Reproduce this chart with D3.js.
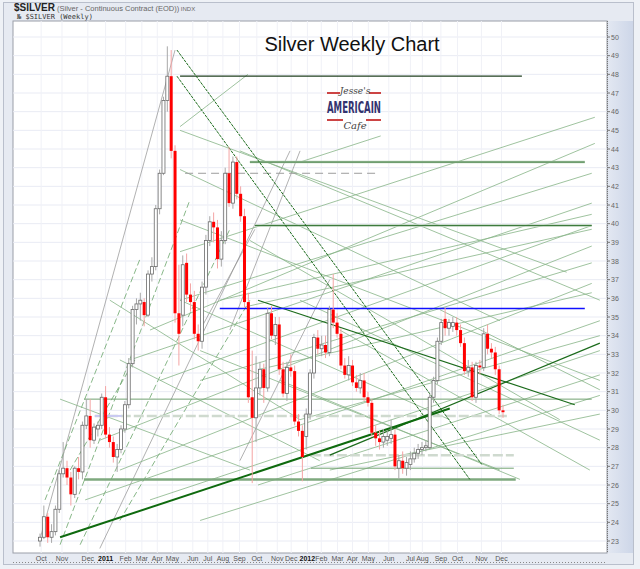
<!DOCTYPE html>
<html>
<head>
<meta charset="utf-8">
<script src="https://cdnjs.cloudflare.com/ajax/libs/d3/7.8.5/d3.min.js"></script>
<style>
body { margin: 0; background: #fff; }
svg { display: block; font-family: Arial, "Liberation Sans", sans-serif; }
</style>
</head>
<body>
<svg id="chart" width="640" height="569"></svg>
<script>
// weekly candles (oldest first)
var opens = [23.0,23.2,24.3,23.2,23.5,24.7,26.6,26.9,26.4,25.5,26.9,26.7,29.2,29.7,28.4,29.0,29.2,30.7,28.7,28.3,
	27.5,27.9,29.0,30.3,32.5,35.4,35.7,35.8,35.1,37.3,37.7,40.8,42.7,46.6,47.9,43.9,35.2,35.1,37.9,36.2,
	35.8,34.1,33.7,36.6,39.1,40.1,39.8,38.1,39.1,42.7,41.1,43.3,41.6,40.4,35.8,30.7,29.6,31.2,32.2,31.2,
	35.2,34.0,34.6,32.2,30.9,32.3,32.1,29.4,28.9,28.6,29.8,32.0,33.9,33.3,33.5,33.1,35.4,34.7,34.1,32.4,
	31.9,32.4,31.5,31.2,31.6,30.7,30.4,28.8,28.5,28.3,28.4,28.5,28.7,26.9,27.3,26.9,27.1,27.4,27.7,27.9,
	28.0,28.0,30.7,31.6,33.7,34.9,34.4,34.5,34.7,34.3,33.6,32.1,32.3,30.7,32.4,32.3,34.1,33.3,33.1,32.2,30.0];
var highs = [23.4,24.9,24.5,23.9,24.9,26.8,28.3,27.3,26.7,27.0,27.5,29.4,30.6,30.6,29.3,29.4,30.9,31.3,29.1,28.6,
	28.2,29.2,30.5,32.8,35.6,36.0,36.3,36.0,37.5,38.2,41.0,42.9,46.8,49.5,49.3,44.2,37.8,38.3,38.4,36.8,
	36.4,34.6,36.9,39.4,40.4,40.6,40.2,39.6,43.0,44.1,43.6,43.6,42.0,40.8,36.3,33.2,32.9,32.6,32.5,35.5,
	35.6,35.0,35.0,32.6,32.6,33.0,32.4,29.8,29.2,30.1,32.2,34.1,34.3,34.0,34.0,35.6,37.3,35.2,34.4,32.8,
	32.9,32.7,31.9,32.0,32.0,31.0,30.6,29.2,28.9,29.0,28.9,29.5,29.0,27.6,27.8,27.5,27.8,28.0,28.2,28.3,
	28.4,30.9,31.8,33.9,34.9,35.5,34.9,35.0,35.0,34.6,33.9,32.7,32.6,32.6,32.7,34.4,34.6,33.6,33.4,32.4,30.3];
var lows = [22.7,23.1,22.9,22.9,23.3,24.5,26.4,26.0,24.9,25.3,26.3,26.3,29.0,28.0,28.2,28.6,29.0,28.5,28.0,27.2,
	26.7,27.7,28.8,30.1,32.3,34.6,34.8,34.5,35.0,36.9,37.5,40.5,42.6,46.0,43.5,34.7,32.4,34.5,35.8,35.3,
	33.8,33.2,33.3,36.2,38.8,39.0,37.6,37.7,38.9,40.9,40.8,41.3,40.1,35.5,30.4,26.1,28.3,30.8,30.4,31.0,
	33.8,33.5,31.9,30.7,30.5,31.8,29.2,28.6,26.2,27.9,29.5,31.7,33.0,32.9,32.8,32.9,34.4,33.9,32.2,31.7,
	31.6,31.3,31.0,30.9,30.5,30.2,28.6,28.1,27.9,28.0,28.1,28.2,26.8,26.3,26.6,26.5,26.8,27.2,27.4,27.6,
	27.8,27.9,30.4,31.4,33.5,34.0,34.0,34.2,34.0,33.4,31.9,31.8,30.5,30.4,31.9,32.1,33.0,32.8,31.9,29.8,29.6];
var closes = [23.2,24.3,23.2,23.5,24.7,26.6,26.9,26.4,25.5,26.9,26.7,29.2,29.7,28.4,29.1,29.2,30.7,28.7,28.3,27.5,
	27.9,29.0,30.3,32.5,35.4,35.7,35.9,35.1,37.3,37.7,40.8,42.7,46.6,47.9,43.9,35.2,34.1,37.8,36.2,35.8,
	34.1,33.7,36.6,39.1,40.1,39.8,38.1,39.1,42.7,41.1,43.3,41.6,40.4,35.8,30.7,29.6,31.2,32.2,31.2,35.2,
	34.0,34.6,32.2,30.9,32.3,32.1,29.4,28.9,27.5,29.8,32.0,33.9,33.3,33.5,33.1,35.4,34.7,34.1,32.4,31.9,
	32.4,31.5,31.2,31.6,30.7,30.4,28.8,28.5,28.3,28.6,28.6,28.7,27.0,27.3,26.9,27.2,27.4,27.7,27.9,28.0,
	28.1,30.7,31.6,33.7,34.7,34.4,34.7,34.7,34.3,33.6,32.1,32.3,30.7,32.4,32.3,34.1,33.3,33.1,32.2,30.0,29.9];

var priceTicks = d3.range(23, 51);
var monthLabels = ["Oct","Nov","Dec","2011","Feb","Mar","Apr","May","Jun","Jul","Aug","Sep","Oct","Nov","Dec",
	"2012","Feb","Mar","Apr","May","Jun","Jul","Aug","Sep","Oct","Nov","Dec"];
var monthWeeks = [0.3,5.7,12.4,17.0,22.2,26.4,30.4,34.3,39.6,43.5,47.4,51.7,56.2,61.5,65.1,
	69.3,72.9,77.1,81.0,85.1,90.4,96.0,99.1,103.9,108.2,114.4,119.6];

// horizontal levels: [price, from week, to week]
var peakLevel = [[47.9, 36.3, 124.9]];
var bandLevels = [[43.3, 54.4, 141.2], [39.9, 55.7, 143.0]];
var blueLevel = [[35.45, 46.6, 141.2]];
var dashedLevels = [[42.7, 37.6, 87.6]];
var ghostLevels = [[29.7, 14.2, 121.0], [27.6, 70.2, 122.8]];
var lavenderLevel = [[29.7, 14.2, 21.2]];
var thinLevels = [[30.6, 11.4, 143.0], [26.9, 70.2, 122.8]];
var floorLevel = [[26.3, 11.4, 123.3]];

// trend lines: [week1, price1, week2, price2]
var peakLines = [[35.5,49.3,114.5,27.1], [35.5,47.9,111.4,26.3]];
var baseLine = [[5.2,23.2,106.2,30.1]];
var darkLines = [[56.5,35.9,138.6,30.3], [75.1,27.6,145.1,33.6]];
var risingLines = [
	[36.3,38.5,143.8,45.7], [28.5,34.3,143.8,44.3], [36.3,35.9,143.0,42.7], [23.3,32.7,143.0,41.1],
	[46.6,35.9,143.0,40.5], [31.1,31.6,143.0,39.9], [54.4,35.6,143.0,39.7], [15.5,28.4,143.0,38.8],
	[41.5,31.6,143.0,37.9], [20.7,26.8,143.0,36.8], [57.0,32.2,143.0,36.3], [11.7,25.2,145.1,34.8],
	[67.4,29.5,145.1,34.0], [28.5,25.2,145.1,33.2], [56.5,26.0,145.1,31.9], [41.5,24.1,145.1,30.8],
	[75.1,26.8,145.1,29.8], [36.3,45.2,53.9,48.0], [67.4,43.3,88.3,44.7]];
var fallingLines = [
	[36.3,45.0,136.5,37.4], [36.3,42.9,119.2,34.8], [36.3,40.2,145.1,31.6], [51.8,43.9,145.1,35.9],
	[36.3,35.9,106.2,29.5], [54.4,39.1,134.7,29.5], [41.5,33.2,119.2,26.8], [67.4,35.9,145.1,28.4],
	[18.1,35.9,67.4,29.5], [20.7,32.7,72.5,27.3], [77.7,34.3,142.5,26.8], [62.2,31.6,124.4,26.3],
	[103.6,35.4,145.1,31.1], [5.2,30.6,54.4,26.8]];
var steepGray = [[0,23.1,35.0,49.3], [15.5,22.6,64.8,43.9], [49.2,34.3,67.4,43.9], [51.8,27.3,75.1,37.0],
	[41.5,34.3,55.7,39.7]];
var steepGreen = [[5.2,22.8,38.9,41.3], [10.4,22.8,49.2,39.7], [1.3,25.2,25.9,38.1], [20.7,24.1,54.4,35.9],
	[7.8,26.8,24.6,32.7]];

var W = 640, H = 569;
var plot = {left: 13, right: 607, top: 21, bottom: 553};
var svg = d3.select("#chart");

var x = d3.scaleLinear().domain([0, opens.length - 1]).range([40, 503]);
var y = d3.scaleLinear().domain([23, 50]).range([541, 37]);

var defs = svg.append("defs");
var grad = defs.append("linearGradient").attr("id", "panel").attr("x1", 0).attr("x2", 1).attr("y1", 0).attr("y2", 0);
grad.append("stop").attr("offset", "0%").attr("stop-color", "#e3e8f2");
grad.append("stop").attr("offset", "100%").attr("stop-color", "#cdd6e8");
defs.append("clipPath").attr("id", "clip").append("rect")
	.attr("x", plot.left).attr("y", plot.top)
	.attr("width", plot.right - plot.left).attr("height", plot.bottom - plot.top);

//frame and header
svg.append("rect").attr("width", W).attr("height", H).attr("fill", "#eef1f6");
svg.append("rect").attr("x", 3.5).attr("y", 2.5).attr("width", 630).attr("height", 562)
	.attr("fill", "#e6eaf2").attr("stroke", "#b9bfcc");
svg.append("rect").attr("x", plot.right).attr("y", plot.top).attr("width", 26).attr("height", plot.bottom - plot.top)
	.attr("fill", "url(#panel)");
svg.append("rect").attr("x", plot.left).attr("y", plot.top)
	.attr("width", plot.right - plot.left).attr("height", plot.bottom - plot.top)
	.attr("fill", "#fff").attr("stroke", "#9a9ea8").attr("stroke-width", 1);

var head = svg.append("text").attr("x", 14).attr("y", 11);
head.append("tspan").text("$SILVER").attr("font-size", "10px").attr("font-weight", "bold").attr("fill", "#222");
head.append("tspan").text(" (Silver - Continuous Contract (EOD))").attr("font-size", "7.5px").attr("fill", "#666");
head.append("tspan").text(" INDX").attr("font-size", "6px").attr("fill", "#666");
svg.append("text").attr("x", 17).attr("y", 19).text("\u2116 $SILVER (Weekly)")
	.attr("font-family", "DejaVu Sans Mono, monospace").attr("font-size", "7px").attr("fill", "#333");

var g = svg.append("g").attr("clip-path", "url(#clip)");

//faint grid
g.selectAll(".hgrid").data(priceTicks).enter().append("line")
	.attr("x1", plot.left).attr("x2", plot.right)
	.attr("y1", function(d){ return y(d); }).attr("y2", function(d){ return y(d); })
	.attr("stroke", "#e9ebf4").attr("stroke-width", 1);
g.selectAll(".vgrid").data(monthWeeks).enter().append("line")
	.attr("y1", plot.top).attr("y2", plot.bottom)
	.attr("x1", function(d){ return x(d); }).attr("x2", function(d){ return x(d); })
	.attr("stroke", "#f0f1f7").attr("stroke-width", 1);

var drawLines = function(data, color, width, dash){
	g.append("g").selectAll("line").data(data).enter().append("line")
		.attr("x1", function(d){ return x(d[0]); })
		.attr("y1", function(d){ return y(d[1]); })
		.attr("x2", function(d){ return x(d[2]); })
		.attr("y2", function(d){ return y(d[3]); })
		.attr("stroke", color).attr("stroke-width", width)
		.attr("stroke-dasharray", dash || null);
};
var drawLevels = function(data, color, width, dash){
	drawLines(data.map(function(d){ return [d[1], d[0], d[2], d[0]]; }), color, width, dash);
};

drawLines(steepGray, "#8f8f8f", 0.7);
drawLines(steepGreen, "#6aa46a", 0.8, "6,3");
drawLines(risingLines, "#86b486", 0.8);
drawLines(fallingLines, "#86b486", 0.8);
drawLevels(ghostLevels, "#cfdacf", 2.5, "10,3");
drawLevels(lavenderLevel, "#c9c9f2", 2);
drawLevels(thinLevels, "#72a272", 1);
drawLevels(floorLevel, "#7ea97e", 2.5);
drawLevels(dashedLevels, "#9c9c9c", 1, "8,5");
drawLevels(bandLevels, "#b8d1b8", 2.5);
drawLevels(bandLevels, "#3a783a", 1);
drawLevels(peakLevel, "#1f3f1f", 1.2);
drawLines(peakLines, "#1b6b1b", 1, "3,1");
drawLines(darkLines, "#1b6b1b", 1.2);
drawLines(baseLine, "#0e6a0e", 2);
drawLevels(blueLevel, "#1010ff", 1.5);

//candles
var candles = opens.map(function(o, i){
	return {i: i, o: o, h: highs[i], l: lows[i], c: closes[i]};
});
g.selectAll(".wick").data(candles).enter().append("line")
	.attr("x1", function(d){ return x(d.i); }).attr("x2", function(d){ return x(d.i); })
	.attr("y1", function(d){ return y(d.h); }).attr("y2", function(d){ return y(d.l); })
	.attr("stroke", function(d){ return d.c < d.o ? "#f4a4a4" : "#a8a8a8"; })
	.attr("stroke-width", 1);
g.selectAll(".body").data(candles).enter().append("rect")
	.attr("x", function(d){ return x(d.i) - 1.5; })
	.attr("width", 3)
	.attr("y", function(d){ return y(Math.max(d.o, d.c)); })
	.attr("height", function(d){ return Math.max(1, Math.abs(y(d.o) - y(d.c))); })
	.attr("fill", function(d){ return d.c < d.o ? "#ff0000" : "#ffffff"; })
	.attr("stroke", function(d){ return d.c < d.o ? "none" : "#6a6a6a"; })
	.attr("stroke-width", 0.8);

//title and logo
svg.append("text").attr("x", 352).attr("y", 51).attr("text-anchor", "middle")
	.attr("font-size", "20px").attr("fill", "#111").text("Silver Weekly Chart");
var logo = svg.append("g");
logo.append("rect").attr("x", 327).attr("y", 92).attr("width", 13).attr("height", 2).attr("fill", "#c44");
logo.append("rect").attr("x", 369).attr("y", 92).attr("width", 12).attr("height", 2).attr("fill", "#c44");
logo.append("rect").attr("x", 327).attr("y", 119).attr("width", 16).attr("height", 2).attr("fill", "#c44");
logo.append("rect").attr("x", 366).attr("y", 119).attr("width", 15).attr("height", 2).attr("fill", "#c44");
logo.append("text").attr("x", 355).attr("y", 94).attr("text-anchor", "middle")
	.attr("font-family", "DejaVu Serif, serif").attr("font-style", "italic")
	.attr("font-size", "9px").attr("fill", "#444").text("Jesse's");
logo.append("text").attr("x", 327).attr("y", 113).attr("textLength", 54).attr("lengthAdjust", "spacingAndGlyphs")
	.attr("font-family", "DejaVu Sans Condensed, DejaVu Sans, sans-serif").attr("font-weight", "bold")
	.attr("font-size", "15px").attr("fill", "#33336f").text("AMERICAIN");
logo.append("text").attr("x", 355).attr("y", 129).attr("text-anchor", "middle")
	.attr("font-family", "DejaVu Serif, serif").attr("font-style", "italic")
	.attr("font-size", "10px").attr("fill", "#444").text("Cafe");

//right price axis
svg.append("line").attr("x1", plot.right + 0.5).attr("x2", plot.right + 0.5)
	.attr("y1", plot.top).attr("y2", plot.bottom)
	.attr("stroke", "#777").attr("stroke-dasharray", "1,1");
svg.selectAll(".ptick").data(priceTicks).enter().append("line")
	.attr("x1", plot.right).attr("x2", plot.right + 3)
	.attr("y1", function(d){ return y(d); }).attr("y2", function(d){ return y(d); })
	.attr("stroke", "#777");
svg.selectAll(".plabel").data(priceTicks).enter().append("text")
	.attr("x", plot.right + 4).attr("y", function(d){ return y(d) + 2.5; })
	.attr("font-size", "7px").attr("fill", "#666").text(function(d){ return d; });

//bottom month axis
svg.append("line").attr("x1", plot.left).attr("x2", plot.right)
	.attr("y1", 562.5).attr("y2", 562.5)
	.attr("stroke", "#888").attr("stroke-dasharray", "1,2");
svg.selectAll(".mlabel").data(monthLabels).enter().append("text")
	.attr("x", function(d, i){ return x(monthWeeks[i]); })
	.attr("y", 561).attr("text-anchor", "middle")
	.attr("font-size", "7px")
	.attr("font-weight", function(d){ return d.length == 4 ? "bold" : "normal"; })
	.attr("fill", function(d){ return d.length == 4 ? "#111" : "#555"; })
	.text(function(d){ return d; });
</script>
</body>
</html>
